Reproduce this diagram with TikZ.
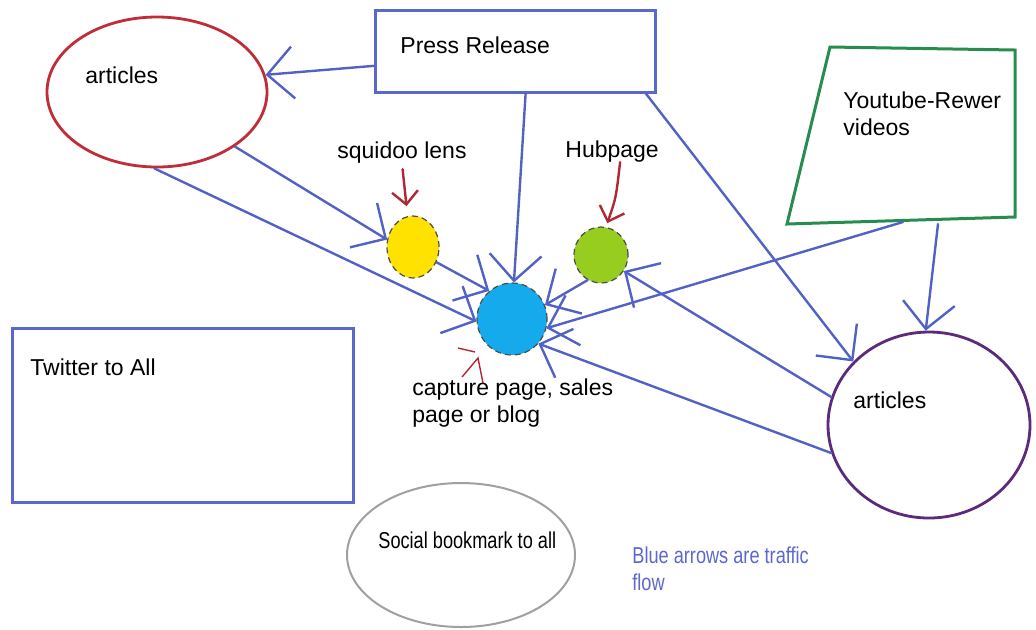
\documentclass[tikz,border=0pt]{standalone}
\usepackage{fontspec}
\setmainfont{Liberation Sans}
\newfontfamily\narrowfont[FakeStretch=0.79]{Liberation Sans}
\usetikzlibrary{shapes.geometric,arrows.meta}

\definecolor{flowblue}{RGB}{82,98,196}
\definecolor{boxblue}{RGB}{88,104,205}
\definecolor{redline}{RGB}{192,44,56}
\definecolor{pointred}{RGB}{176,40,52}
\definecolor{quadgreen}{RGB}{40,140,80}
\definecolor{purp}{RGB}{92,42,122}
\definecolor{socialgray}{RGB}{160,160,160}
\definecolor{sqyellow}{RGB}{255,226,0}
\definecolor{hubgreen}{RGB}{150,205,30}
\definecolor{capblue}{RGB}{20,170,235}
\definecolor{noteblue}{RGB}{92,104,205}

\begin{document}
\begin{tikzpicture}[x=0.5pt,y=-0.5pt]
    \tikzset{
        oval/.style = {ellipse, draw, inner sep=0pt, line width=1.4pt},
        dot/.style = {ellipse, draw=black!70, densely dashed, line width=0.6pt, inner sep=0pt},
        box/.style = {rectangle, draw=boxblue, line width=1.5pt, inner sep=0pt},
        txt/.style = {inner sep=0pt, align=left, font=\fontsize{11.5}{13.5}\selectfont},
        txtn/.style = {txt, font={\narrowfont\fontsize{11.5}{13.5}\selectfont}},
        line/.style = {draw=flowblue, line width=1.2pt, line cap=round, -{Straight Barb[length=13pt,width=26pt]}},
        pointer/.style = {draw=pointred, line width=1.2pt, line cap=round, -{Straight Barb[length=6.5pt,width=13pt]}},
    }
    \useasboundingbox (0,0) rectangle (1036,629);

    \node[oval, draw=redline](artL) at (157,92)[minimum width=110pt, minimum height=75pt]{};
    \node[txt, anchor=base west](artLt) at (85,83){articles};

    \node[box](press) at (515,51)[minimum width=140pt, minimum height=41pt]{};
    \node[txt, anchor=base west](presst) at (400,53){Press Release};

    \draw[draw=quadgreen, line width=1.5pt] (830,47) -- (1015,50) -- (1015,217) -- (787,224) -- cycle;
    \node[txt, anchor=north west](yt) at (843,91){Youtube-Rewer\\videos};
    \coordinate (ytA) at (903,222);
    \coordinate (ytB) at (938,224);

    \node[txt, anchor=base west](squid) at (337,158){squidoo lens};
    \node[txt, anchor=base west](hubt) at (565,157){Hubpage};

    \node[dot, fill=sqyellow](yel) at (413,247)[minimum width=26pt, minimum height=31pt]{};
    \node[dot, fill=hubgreen](hub) at (601,255)[minimum width=27pt, minimum height=28pt]{};
    \node[dot, fill=capblue](cap) at (512,319)[minimum width=35pt, minimum height=36pt]{};
    \node[txt, anchor=north west](capt) at (412,378){capture page, sales\\page or blog};

    \node[box](tw) at (182.5,415)[minimum width=170.5pt, minimum height=87pt]{};
    \node[txt, anchor=base west](twt) at (30,375){Twitter to All};

    \node[oval, draw=socialgray, line width=1pt](soc) at (461,555)[minimum width=114pt, minimum height=72pt]{};
    \node[txtn, anchor=base west](soct) at (378,548){Social bookmark to all};

    \node[oval, draw=purp](artR) at (929,425)[minimum width=101pt, minimum height=93pt]{};
    \node[txt, anchor=base west](artRt) at (853,408){articles};

    \node[txtn, anchor=north west, text=noteblue](note) at (632,546){Blue arrows are traffic\\flow};

    \path [line] (press.186) -- (artL.9);
    \path [line] (press.284) -- (cap.87);
    \path [line] (press.342) -- (artR.140);
    \path [line] (artL.325) -- (yel.164);
    \path [line] (artL.268) -- (cap.184);
    \path [line] (yel.327) -- (cap.129);
    \path [line] (hub.242) -- (cap.23);
    \path [line] (ytA) -- (cap.345);
    \path [line] (ytB) -- (artR.92);
    \path [line] (artR.164) -- (hub.325);
    \path [line] (artR.196) -- (cap.317);

    \path [pointer, shorten <=3pt, shorten >=5pt] (squid.south) -- (yel.100);
    \path [pointer, shorten >=2pt] ([xshift=4pt]hubt.south) .. controls (616,198) .. (hub.80);
    \draw[pointred, line width=0.7pt] (458,348) -- (475,352);
    \draw[pointred, line width=0.7pt] (462,377) -- (478,358) -- (483,383);

\end{tikzpicture}
\end{document}
